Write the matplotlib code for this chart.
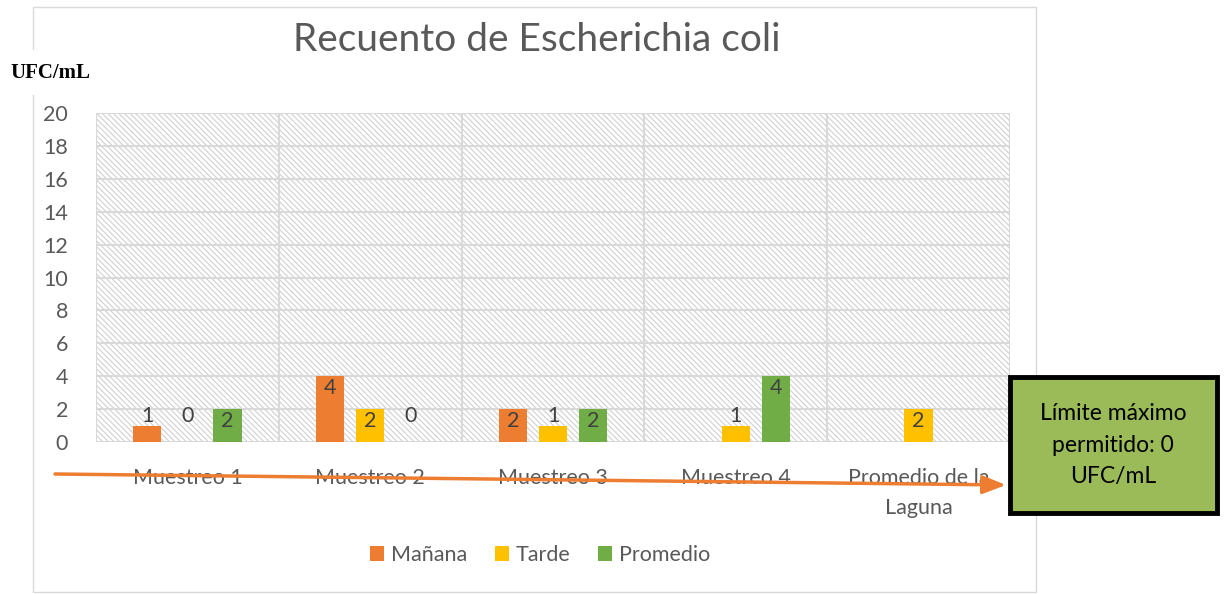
import numpy as np
import matplotlib
matplotlib.use("Agg")
import matplotlib.pyplot as plt
from matplotlib.patches import Rectangle, FancyArrowPatch

categories = ["Muestreo 1", "Muestreo 2", "Muestreo 3", "Muestreo 4", "Promedio de la\nLaguna"]
manana = [1, 4, 2, np.nan, np.nan]
tarde = [0, 2, 1, 1, 2]
promedio = [2, 0, 2, 4, np.nan]
series_names = ["Mañana", "Tarde", "Promedio"]
colors = ["#ED7D31", "#FFC000", "#70AD47"]
yticks = list(range(0, 21, 2))

plt.rcParams['font.family'] = ['Lato', 'DejaVu Sans']
plt.rcParams['hatch.color'] = '#d0d0d0'
plt.rcParams['hatch.linewidth'] = 0.8

W, H = 1225, 594
fig = plt.figure(figsize=(W/100, H/100), dpi=100)

def fx(px): return px / W
def fy(py): return 1 - py / H

# chart border
fig.add_artist(Rectangle((fx(33), fy(592)), fx(1036) - fx(33), fy(7) - fy(592),
                         transform=fig.transFigure, fill=False, edgecolor='#d9d9d9', lw=1))

ax = fig.add_axes([fx(96), fy(442), fx(1010) - fx(96), fy(113) - fy(442)])
ax.set_xlim(-0.5, len(categories) - 0.5)
ax.set_ylim(0, 20)

# hatched background
ax.add_patch(Rectangle((-0.5, 0), len(categories), 20, facecolor='white',
                       edgecolor='#d0d0d0', hatch='\\' * 6, lw=0, zorder=0))

for y in yticks:
    ax.axhline(y, color='#d9d9d9', lw=1.5, zorder=1)
for i in range(len(categories) + 1):
    ax.axvline(i - 0.5, color='#d9d9d9', lw=1.5, zorder=1)

x = np.arange(len(categories))
bw = 0.155
offs = [-0.22, 0, 0.22]
for vals, off, c, name in zip([manana, tarde, promedio], offs, colors, series_names):
    v = np.array(vals, dtype=float)
    ax.bar(x + off, np.nan_to_num(v), bw, color=c, label=name, zorder=3)
    for xi, val in zip(x, v):
        if np.isnan(val):
            continue
        if val >= 2:
            ax.text(xi + off, val - 0.1, f"{int(val)}", ha='center', va='top',
                    fontsize=15.5, color='#404040', zorder=4)
        else:
            ax.text(xi + off, 1.0, f"{int(val)}", ha='center', va='bottom',
                    fontsize=15.5, color='#404040', zorder=4)

ax.set_yticks(yticks)
ax.set_xticks(x)
ax.set_xticklabels(categories, fontsize=15.5, color='#595959', linespacing=1.6)
ax.tick_params(axis='y', labelsize=15.5, labelcolor='#595959', length=0, pad=20)
ax.tick_params(axis='x', length=0, pad=19)
for s in ax.spines.values():
    s.set_visible(False)

fig.text(fx(537), fy(40), "Recuento de Escherichia coli", ha='center', va='center',
         fontsize=28, color='#595959')
fig.text(fx(10), fy(73), "UFC/mL", ha='left', va='center', fontsize=15,
         fontweight='bold', family=['Liberation Serif'], color='black')
# white gap in border behind label
fig.add_artist(Rectangle((fx(25), fy(95)), fx(15), fy(50) - fy(95),
                         transform=fig.transFigure, facecolor='white', edgecolor='none'))

leg = fig.legend(loc='center', bbox_to_anchor=(fx(540), fy(555)), ncol=3, frameon=False,
                 fontsize=15.5, handlelength=0.65, handleheight=0.65, columnspacing=1.3,
                 handletextpad=0.3)
for t in leg.get_texts():
    t.set_color('#595959')

arrow = FancyArrowPatch((fx(55), fy(474)), (fx(1006), fy(485)), transform=fig.transFigure,
                        arrowstyle='-|>,head_length=14,head_width=5.5', color='#ED7D31',
                        lw=2.5, mutation_scale=1, shrinkA=0, shrinkB=0)
fig.add_artist(arrow)

fig.add_artist(Rectangle((fx(1010), fy(513)), fx(1217) - fx(1010), fy(377) - fy(513),
                         transform=fig.transFigure, facecolor='#9BBB59', edgecolor='black', lw=3.5))
fig.text(fx(1113), fy(445), "Límite máximo\npermitido: 0\nUFC/mL", ha='center', va='center',
         fontsize=16.5, color='black', linespacing=1.6)

fig.savefig("out.png", dpi=100)
